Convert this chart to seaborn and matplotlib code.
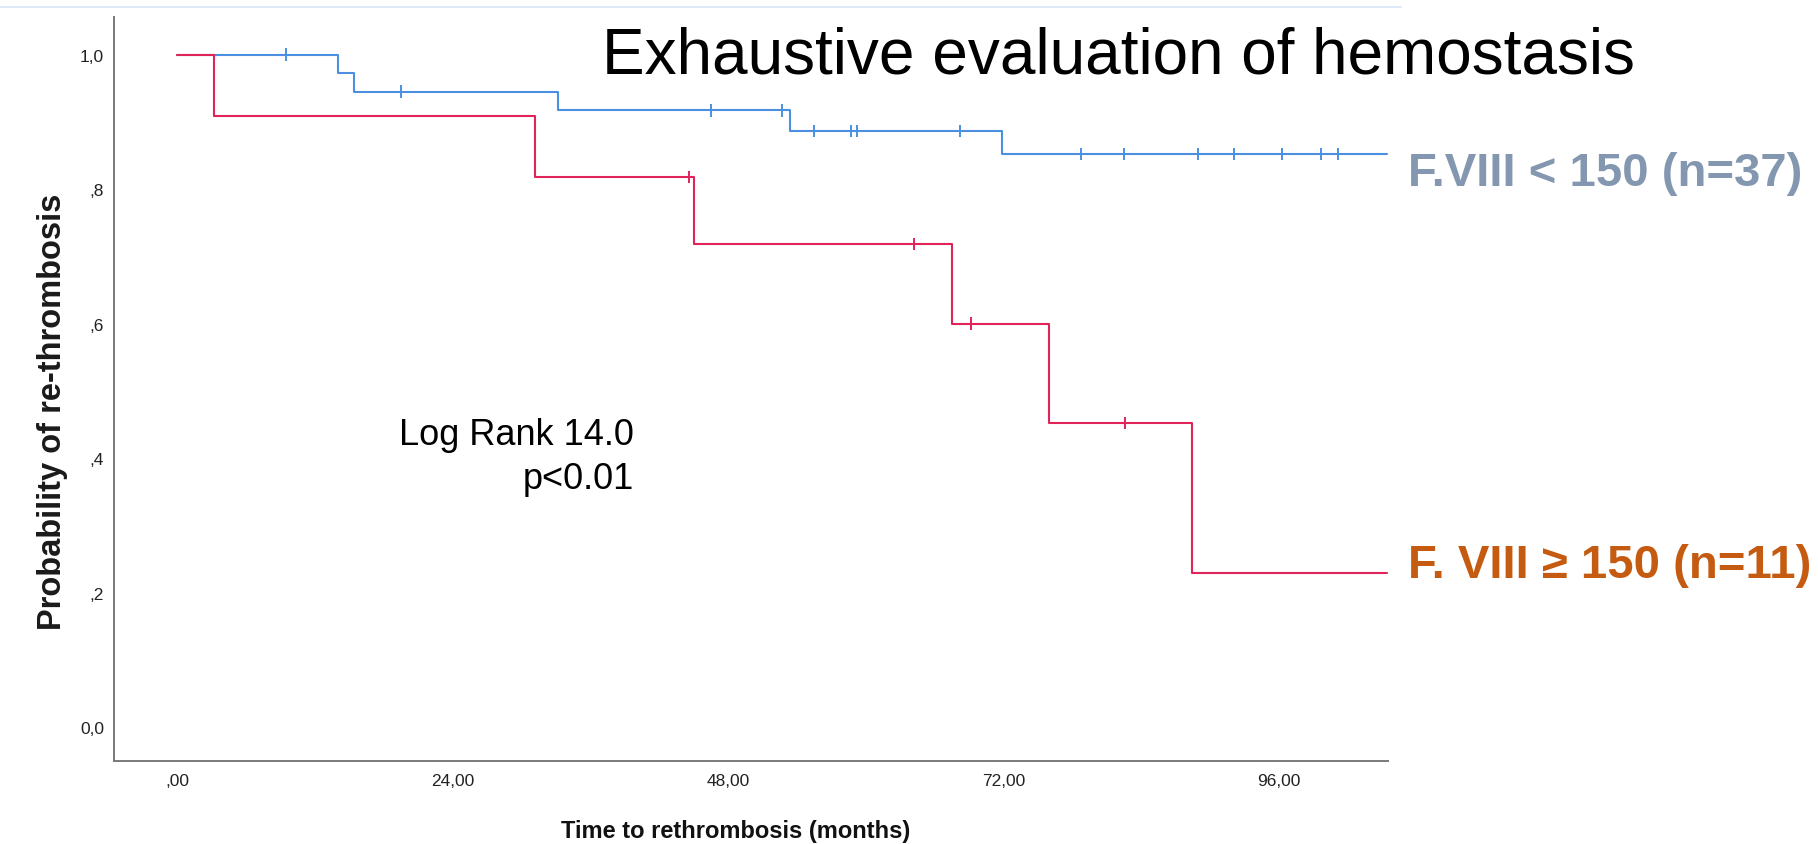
import numpy as np
import pandas as pd
import matplotlib
matplotlib.use("Agg")
import matplotlib.pyplot as plt
from matplotlib.lines import Line2D
import seaborn as sns

# Kaplan-Meier step curves (months, cumulative probability without re-thrombosis)
low_times = [0.0, 14.0, 15.4, 33.2, 53.4, 71.9]
low_surv = [1.000, 0.973, 0.945, 0.917, 0.886, 0.852]
low_censored = [9.5, 19.5, 46.5, 52.7, 55.5, 58.7, 59.2, 68.2,
                78.8, 82.5, 89.0, 92.1, 96.3, 99.7, 101.2]

high_times = [0.0, 3.2, 31.2, 45.0, 67.5, 76.0, 88.4]
high_surv = [1.000, 0.909, 0.818, 0.718, 0.600, 0.452, 0.229]
high_censored = [44.6, 64.2, 69.2, 82.6]

follow_up_end = 105.4

groups = ["F.VIII < 150 (n=37)", "F. VIII \u2265 150 (n=11)"]
line_colors = ["#4a8fe0", "#e0245a"]
label_colors = ["#8497b0", "#c55a11"]

x_ticks = [0, 24, 48, 72, 96]
x_ticklabels = [",00", "24,00", "48,00", "72,00", "96,00"]
y_ticks = [0.0, 0.2, 0.4, 0.6, 0.8, 1.0]
y_ticklabels = ["0,0", ",2", ",4", ",6", ",8", "1,0"]


def curve_frame(times, surv, name):
    t = list(times) + [follow_up_end]
    s = list(surv) + [surv[-1]]
    return pd.DataFrame({"time": t, "surv": s, "group": name})


def censor_frame(times, surv, cens, name):
    idx = np.searchsorted(times, cens, side="right") - 1
    return pd.DataFrame({"time": cens, "surv": np.asarray(surv)[idx], "group": name})


curves = pd.concat([curve_frame(low_times, low_surv, groups[0]),
                    curve_frame(high_times, high_surv, groups[1])], ignore_index=True)
marks = pd.concat([censor_frame(low_times, low_surv, low_censored, groups[0]),
                   censor_frame(high_times, high_surv, high_censored, groups[1])],
                  ignore_index=True)

sns.set_theme(style="white")
plt.rcParams["font.family"] = ["Liberation Sans", "DejaVu Sans"]

W, H = 1818, 845
fig = plt.figure(figsize=(W / 100, H / 100), dpi=100)
ax = fig.add_axes([113.6 / W, 1 - 762 / H, (1388 - 113.6) / W, (762 - 18.3) / H])

palette = dict(zip(groups, line_colors))
sns.lineplot(data=curves, x="time", y="surv", hue="group", hue_order=groups,
             palette=palette, drawstyle="steps-post", estimator=None, sort=False,
             linewidth=1.5, legend=False, ax=ax)
sns.scatterplot(data=marks, x="time", y="surv", hue="group", hue_order=groups,
                palette=palette, marker="|", s=80, linewidth=1.4, legend=False,
                ax=ax, zorder=3)

ax.set_xlim(-5.56, 105.52)
ax.set_ylim(-0.0504, 1.0555)
ax.set_xticks(x_ticks)
ax.set_xticklabels(x_ticklabels)
ax.set_yticks(y_ticks)
ax.set_yticklabels(y_ticklabels)
ax.tick_params(axis="both", length=0, labelsize=12.5, labelcolor="#222222")
ax.tick_params(axis="x", pad=9)
ax.tick_params(axis="y", pad=7)

for side in ("top", "right"):
    ax.spines[side].set_visible(False)
for side in ("left", "bottom"):
    ax.spines[side].set_color("#7a7a7a")
    ax.spines[side].set_linewidth(1.4)

ax.set_xlabel("Time to rethrombosis (months)", fontsize=17, fontweight="bold", color="#111111")
ax.xaxis.set_label_coords((736 - 113.6) / (1388 - 113.6), (762 - 831.7) / (762 - 18.3))
ax.xaxis.label.set_va("center")
ax.set_ylabel("Probability of re-thrombosis", fontsize=23.5, fontweight="bold", color="#1a1a1a")
ax.yaxis.set_label_coords((53 - 113.6) / (1388 - 113.6), (762 - 412) / (762 - 18.3))
ax.yaxis.label.set_va("center")

# Log-rank test result
ax.text(39.8, 0.421, "Log Rank 14.0", ha="right", va="baseline", fontsize=26, color="black")
ax.text(39.8, 0.3555, "p<0.01", ha="right", va="baseline", fontsize=26, color="black")

# Title and group labels
fig.text(602 / W, 1 - 74 / H, "Exhaustive evaluation of hemostasis",
         ha="left", va="baseline", fontsize=46, color="black")
fig.text(1408 / W, 1 - 186 / H, groups[0], ha="left", va="baseline",
         fontsize=34, fontweight="bold", color=label_colors[0])
fig.text(1408 / W, 1 - 578 / H, groups[1], ha="left", va="baseline",
         fontsize=34, fontweight="bold", color=label_colors[1])

fig.add_artist(Line2D([0.0, 1401 / W], [1 - 8.3 / H, 1 - 8.3 / H],
                      color="#dde9f7", linewidth=1.5))

fig.savefig("out.png", dpi=100, facecolor="white")
